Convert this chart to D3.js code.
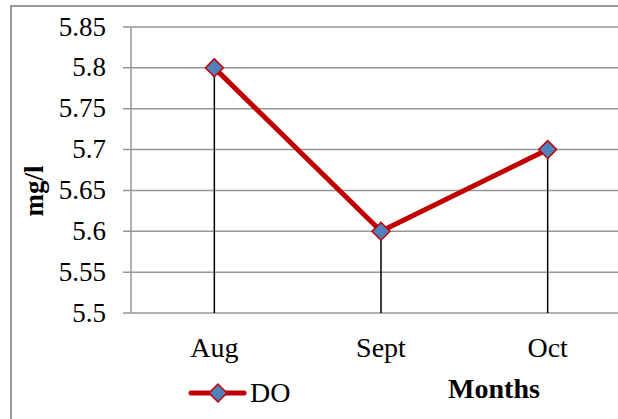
<!DOCTYPE html>
<html>
<head>
<meta charset="utf-8">
<script src="https://cdn.jsdelivr.net/npm/d3@7"></script>
<style>
  html, body { margin: 0; padding: 0; background: #fff; }
  svg { display: block; }
  text { font-family: "Palatino Linotype", "Book Antiqua", Palatino, "Liberation Serif", serif; fill: #000; }
</style>
</head>
<body>
<svg id="chart" width="618" height="419"></svg>
<script>
// data
const months = ["Aug", "Sept", "Oct"];
const doValues = [5.8, 5.6, 5.7];
const yTicks = [5.5, 5.55, 5.6, 5.65, 5.7, 5.75, 5.8, 5.85];
const yTickLabels = ["5.5", "5.55", "5.6", "5.65", "5.7", "5.75", "5.8", "5.85"];

const svg = d3.select("#chart");
const lineRed = "#c00000";
const markerBlue = "#4f81bd";

// outer chart frame (runs off the right / bottom of the crop)
svg.append("rect")
  .attr("x", 11).attr("y", 6)
  .attr("width", 640).attr("height", 440)
  .attr("fill", "none").attr("stroke", "#999").attr("stroke-width", 2);

const plotLeft = 131, plotRight = 631, plotTop = 27, plotBottom = 313;

const x = d3.scalePoint().domain(months).range([plotLeft, plotRight]).padding(0.5);
const y = d3.scaleLinear().domain([5.5, 5.85]).range([plotBottom, plotTop]);

// gridlines
svg.append("g").selectAll("line")
  .data(yTicks).join("line")
  .attr("x1", plotLeft - 8).attr("x2", plotRight)
  .attr("y1", d => y(d)).attr("y2", d => y(d))
  .attr("stroke", "#969696").attr("stroke-width", 1.5);

// y axis line
svg.append("line")
  .attr("x1", plotLeft).attr("x2", plotLeft)
  .attr("y1", plotTop).attr("y2", plotBottom)
  .attr("stroke", "#969696").attr("stroke-width", 1.5);

// y tick labels
svg.append("g").selectAll("text")
  .data(yTicks).join("text")
  .attr("x", 106).attr("y", d => y(d) + 8.5)
  .attr("text-anchor", "end")
  .attr("font-size", 27)
  .text((d, i) => yTickLabels[i]);

// drop lines
svg.append("g").selectAll("line")
  .data(months).join("line")
  .attr("x1", d => x(d)).attr("x2", d => x(d))
  .attr("y1", (d, i) => y(doValues[i])).attr("y2", plotBottom)
  .attr("stroke", "#000").attr("stroke-width", 1.5);

// x labels
svg.append("g").selectAll("text")
  .data(months).join("text")
  .attr("x", d => x(d)).attr("y", 357)
  .attr("text-anchor", "middle")
  .attr("font-size", 28)
  .text(d => d);

// series line
const line = d3.line().x((d, i) => x(months[i])).y(d => y(d));
svg.append("path")
  .datum(doValues)
  .attr("d", line)
  .attr("fill", "none").attr("stroke", lineRed).attr("stroke-width", 5)
  .attr("stroke-linejoin", "round");

const diamond = d3.symbol().type(d3.symbolSquare).size(160);

svg.append("g").selectAll("path")
  .data(doValues).join("path")
  .attr("d", diamond)
  .attr("transform", (d, i) => `translate(${x(months[i])},${y(d)}) rotate(45)`)
  .attr("fill", markerBlue).attr("stroke", lineRed).attr("stroke-width", 1.5);

// y-axis title
svg.append("text")
  .attr("transform", "translate(43,191) rotate(-90)")
  .attr("text-anchor", "middle")
  .attr("font-size", 27).attr("font-weight", "bold")
  .text("mg/l");

// x-axis title
svg.append("text")
  .attr("x", 494).attr("y", 398)
  .attr("text-anchor", "middle")
  .attr("font-size", 28).attr("font-weight", "bold")
  .text("Months");

// legend
const lg = svg.append("g");
lg.append("line")
  .attr("x1", 191).attr("x2", 244).attr("y1", 393).attr("y2", 393)
  .attr("stroke", lineRed).attr("stroke-width", 5).attr("stroke-linecap", "round");
lg.append("path")
  .attr("d", diamond)
  .attr("transform", "translate(218,393) rotate(45)")
  .attr("fill", markerBlue).attr("stroke", lineRed).attr("stroke-width", 1.5);
lg.append("text")
  .attr("x", 250).attr("y", 402)
  .attr("font-size", 28)
  .text("DO");
</script>
</body>
</html>
